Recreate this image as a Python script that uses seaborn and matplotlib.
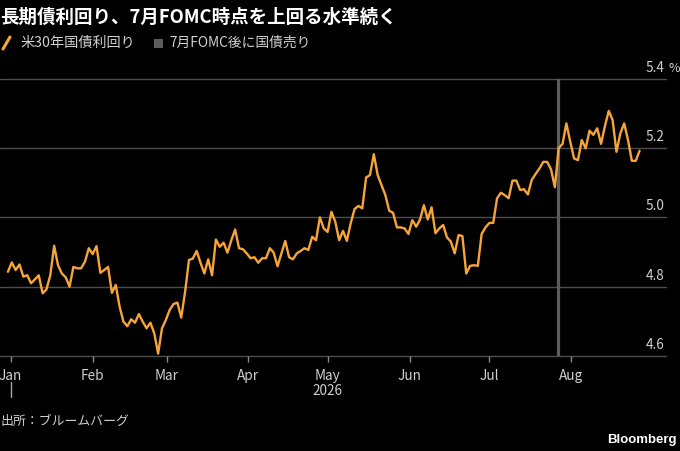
import matplotlib
matplotlib.use("Agg")
import matplotlib.pyplot as plt
import matplotlib.dates as mdates
import matplotlib.transforms as mtrans
from matplotlib.lines import Line2D
from matplotlib.patches import Rectangle
import seaborn as sns
import pandas as pd

# ---------------- data ----------------
title = "長期債利回り、7月FOMC時点を上回る水準続く"
series_label = "米30年国債利回り"
fomc_label = "7月FOMC後に国債売り"
source = "出所：ブルームバーグ"
start_date = "2025-12-31"
end_date = "2026-08-27"
fomc_date = "2026-07-27"
yields = [
    4.843, 4.870, 4.848, 4.864, 4.829, 4.833, 4.810, 4.821, 4.833, 4.781,
    4.792, 4.833, 4.918, 4.862, 4.838, 4.827, 4.800, 4.857, 4.853, 4.853,
    4.872, 4.911, 4.894, 4.917, 4.840, 4.848, 4.857, 4.782, 4.805, 4.742,
    4.699, 4.686, 4.706, 4.696, 4.721, 4.699, 4.680, 4.696, 4.665, 4.607,
    4.680, 4.704, 4.733, 4.750, 4.754, 4.711, 4.785, 4.877, 4.881, 4.903,
    4.869, 4.838, 4.879, 4.833, 4.936, 4.915, 4.927, 4.898, 4.934, 4.965,
    4.911, 4.908, 4.896, 4.882, 4.885, 4.869, 4.882, 4.882, 4.911, 4.898,
    4.859, 4.896, 4.932, 4.885, 4.879, 4.896, 4.903, 4.911, 4.906, 4.944,
    4.934, 5.000, 4.968, 4.958, 5.016, 4.987, 4.934, 4.961, 4.932, 4.983,
    5.024, 5.033, 5.026, 5.115, 5.122, 5.182, 5.122, 5.093, 5.064, 5.019,
    5.013, 4.971, 4.971, 4.968, 4.952, 4.992, 4.973, 4.994, 5.035, 4.994,
    5.029, 4.954, 4.968, 4.978, 4.942, 4.930, 4.896, 4.949, 4.946, 4.838,
    4.860, 4.862, 4.860, 4.952, 4.971, 4.984, 4.984, 5.055, 5.071, 5.064,
    5.055, 5.106, 5.106, 5.079, 5.081, 5.066, 5.108, 5.125, 5.141, 5.160,
    5.160, 5.139, 5.087, 5.200, 5.212, 5.271, 5.218, 5.170, 5.165, 5.223,
    5.199, 5.250, 5.238, 5.257, 5.212, 5.263, 5.307, 5.281, 5.189, 5.242,
    5.271, 5.223, 5.163, 5.163, 5.192,
]
y_ticks = [4.6, 4.8, 5.0, 5.2, 5.4]
y_tick_labels = ["4.6", "4.8", "5.0", "5.2", "5.4"]
month_ticks = pd.date_range("2026-01-01", periods=8, freq="MS")
month_labels = ["Jan", "Feb", "Mar", "Apr", "May", "Jun", "Jul", "Aug"]
year_label = "2026"

df = pd.DataFrame({
    "date": pd.date_range(start_date, end_date, periods=len(yields)),
    "yield": yields,
})

# ---------------- style ----------------
sns.set_style("dark")
plt.rcParams["font.family"] = ["Noto Sans CJK JP", "DejaVu Sans"]

BG = "#000000"
ORANGE = "#f7a438"
GRID = "#4d4d4d"
TXT = "#d0d0d0"

W, H = 680, 451
fig = plt.figure(figsize=(W / 100, H / 100), dpi=100, facecolor=BG)
ax = fig.add_axes([0.0, (H - 356) / H, 666 / W, (356 - 78.7) / H])
ax.set_facecolor(BG)

ax.axvline(pd.Timestamp(fomc_date), color="#5c5c5c", lw=2.3, zorder=1)
sns.lineplot(data=df, x="date", y="yield", ax=ax, color=ORANGE,
             linewidth=1.7, zorder=3)

ax.set_xlim(pd.Timestamp("2025-12-28"), pd.Timestamp("2026-09-06"))
ax.set_ylim(y_ticks[0], y_ticks[-1])
ax.set_yticks(y_ticks)
ax.set_yticklabels([])
ax.tick_params(axis="y", length=0)
ax.grid(False)
for v in y_ticks:
    ax.axhline(v, color=GRID, lw=1.0, zorder=0.5, clip_on=False)
for s in ax.spines.values():
    s.set_visible(False)

ax.set_xticks(month_ticks)
ax.set_xticklabels(month_labels, color=TXT, fontsize=9.8)
ax.tick_params(axis="x", direction="out", length=4.5, width=1,
               color="#8a8a8a", pad=5, bottom=True)
ax.set_xlabel("")
ax.set_ylabel("")

# y labels inside right, above the gridlines
for v, lab in zip(y_ticks, y_tick_labels):
    ax.annotate(lab, xy=(1.0, v), xycoords=("axes fraction", "data"),
                xytext=(-1, 3), textcoords="offset points",
                ha="right", va="bottom", color=TXT, fontsize=9.8)
ax.annotate("%", xy=(1.0, y_ticks[-1]), xycoords=("axes fraction", "data"),
            xytext=(2, 3), textcoords="offset points",
            ha="left", va="bottom", color=TXT, fontsize=9)

# year label and marker
trans = mtrans.blended_transform_factory(ax.transData, ax.transAxes)
ax.text(month_ticks[4], -0.125, year_label, transform=trans, ha="center",
        va="center", color=TXT, fontsize=9.8)
ax.plot([month_ticks[0], month_ticks[0]], [-0.095, -0.148], transform=trans,
        color="#aaaaaa", lw=1, clip_on=False)

# title
fig.text(0.0, 1 - 17 / H, title, ha="left", va="center", color="white",
         fontsize=13.3, fontweight="bold")

# legend
fig.add_artist(Line2D([3 / W, 10 / W], [1 - 49 / H, 1 - 37 / H],
                      color=ORANGE, lw=2.2))
fig.text(20 / W, 1 - 43 / H, series_label, ha="left", va="center",
         color=TXT, fontsize=10.2)
fig.add_artist(Rectangle((154 / W, 1 - 48 / H), 9 / W, 9 / H,
                         facecolor="#5c5c5c", edgecolor="none",
                         transform=fig.transFigure))
fig.text(169 / W, 1 - 43 / H, fomc_label, ha="left", va="center",
         color=TXT, fontsize=9.9)

# footer
fig.text(0.0, 1 - 421 / H, source, ha="left", va="center", color=TXT,
         fontsize=9.3)
fig.text(677 / W, 1 - 440 / H, "Bloomberg", ha="right", va="center",
         color="white", fontsize=9.5, fontweight="bold",
         family=["Liberation Sans", "DejaVu Sans"])

fig.savefig("out.png", dpi=100, facecolor=BG)
